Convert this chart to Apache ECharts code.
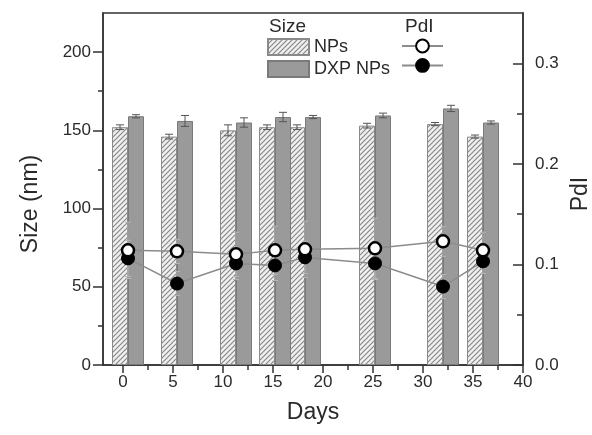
<!DOCTYPE html>
<html><head><meta charset="utf-8">
<script src="https://cdn.jsdelivr.net/npm/echarts@6/dist/echarts.min.js"></script>
<style>html,body{margin:0;padding:0;background:#fff}#c{width:592px;height:435px}</style>
</head><body><div id="c"></div>
<script>
const days = [0.5, 5.4, 11.3, 15.2, 18.2, 25.2, 32, 36];
const sizeNPs = [152, 146, 150, 152, 152, 153, 154, 146];
const sizeNPsErr = [1.5, 1.5, 3.5, 1.5, 1.5, 1.5, 1, 1];
const sizeDXP = [159, 156, 155, 158.5, 158.5, 159.5, 164, 155];
const sizeDXPErr = [1, 3.5, 3, 3, 1, 1.5, 2, 1];
const pdiNPs = [0.114, 0.113, 0.110, 0.114, 0.115, 0.116, 0.123, 0.114];
const pdiNPsErr = [0.028, 0.012, 0.022, 0.024, 0.028, 0.03, 0.015, 0.018];
const pdiDXP = [0.106, 0.081, 0.101, 0.099, 0.107, 0.101, 0.078, 0.103];
const pdiDXPErr = [0.018, 0.012, 0.016, 0.015, 0.016, 0.016, 0.012, 0.012];
const xLabels = [0, 5, 10, 15, 20, 25, 30, 35, 40];
const xMinor = [2.5, 7.5, 12.5, 17.5, 22.5, 27.5, 32.5, 37.5];
const sizeTicks = [0, 50, 100, 150, 200];
const sizeMinor = [25, 75, 125, 175];
const pdiTicks = [0, 0.1, 0.2, 0.3];
const pdiMinor = [0.05, 0.15, 0.25];

const FONT = 'Liberation Sans, Arial, sans-serif';
const AX = '#333';
const TXT = '#2a2a2a';

// hatch pattern
const pc = document.createElement('canvas');
pc.width = 5; pc.height = 5;
const g = pc.getContext('2d');
g.fillStyle = '#f0f0f0'; g.fillRect(0, 0, 5, 5);
g.strokeStyle = '#888'; g.lineWidth = 1.2;
g.beginPath(); g.moveTo(-1, 6); g.lineTo(6, -1); g.stroke();
g.beginPath(); g.moveTo(-1, 1); g.lineTo(1, -1); g.stroke();
g.beginPath(); g.moveTo(4, 6); g.lineTo(6, 4); g.stroke();
const hatch = { image: pc, repeat: 'repeat' };

const chart = echarts.init(document.getElementById('c'), null, { renderer: 'canvas' });

function barErr(vals, errs, side) {
  return {
    type: 'custom', xAxisIndex: 0, yAxisIndex: 0, z: 4, silent: true,
    data: days.map((d, i) => [d, vals[i] - errs[i], vals[i] + errs[i]]),
    renderItem(params, api) {
      const lo = api.coord([api.value(0), api.value(1)]);
      const hi = api.coord([api.value(0), api.value(2)]);
      const x = lo[0] + side * 8;
      const cw = 4;
      const st = { stroke: '#555', lineWidth: 1 };
      return { type: 'group', children: [
        { type: 'line', shape: { x1: x, y1: hi[1], x2: x, y2: lo[1] }, style: st },
        { type: 'line', shape: { x1: x - cw, y1: hi[1], x2: x + cw, y2: hi[1] }, style: st },
        { type: 'line', shape: { x1: x - cw, y1: lo[1], x2: x + cw, y2: lo[1] }, style: st }
      ] };
    }
  };
}
function pdiErr(vals, errs) {
  return {
    type: 'custom', xAxisIndex: 0, yAxisIndex: 2, z: 5, silent: true,
    data: days.map((d, i) => [d, vals[i] - errs[i], vals[i] + errs[i]]),
    renderItem(params, api) {
      const lo = api.coord([api.value(0), api.value(1)]);
      const hi = api.coord([api.value(0), api.value(2)]);
      const x = lo[0];
      const cw = 3;
      const st = { stroke: '#b5b5b5', lineWidth: 1 };
      return { type: 'group', children: [
        { type: 'line', shape: { x1: x, y1: hi[1], x2: x, y2: lo[1] }, style: st },
        { type: 'line', shape: { x1: x - cw, y1: hi[1], x2: x + cw, y2: hi[1] }, style: st },
        { type: 'line', shape: { x1: x - cw, y1: lo[1], x2: x + cw, y2: lo[1] }, style: st }
      ] };
    }
  };
}

const lbl = { fontFamily: FONT, fontSize: 17, color: TXT };
const nameStyle = { fontFamily: FONT, fontSize: 23, color: TXT };

chart.setOption({
  animation: false,
  grid: { left: 103, right: 69, top: 13, bottom: 70, containLabel: false, outerBoundsMode: 'none',
    show: true, borderColor: AX, borderWidth: 1.5, backgroundColor: 'transparent' },
  legend: [
    {
      data: ['NPs', 'DXP NPs'], orient: 'vertical', left: 262, top: 33, icon: 'rect',
      itemWidth: 41, itemHeight: 16, itemGap: 4, textStyle: { fontFamily: FONT, fontSize: 18, color: TXT },
      selectedMode: false
    },
    {
      data: ['NPs PdI', 'DXP NPs PdI'], orient: 'vertical', left: 396, top: 33,
      itemWidth: 41, itemHeight: 16, itemGap: 4, formatter: () => '', selectedMode: false,
      textStyle: { fontFamily: FONT, fontSize: 18 }
    }
  ],
  graphic: [
    { type: 'text', left: 269, top: 17, style: { text: 'Size', font: '19px ' + FONT, fill: TXT } },
    { type: 'text', left: 405, top: 17, style: { text: 'PdI', font: '19px ' + FONT, fill: TXT } }
  ],
  xAxis: [
    {
      type: 'value', min: -2, max: 40, position: 'bottom',
      name: 'Days', nameLocation: 'middle', nameGap: 36, nameTextStyle: nameStyle,
      axisLine: { show: true, onZero: false, lineStyle: { color: AX, width: 1.5 } },
      axisTick: { show: true, customValues: xLabels, length: 8, lineStyle: { color: AX, width: 1.5 } },
      axisLabel: Object.assign({ customValues: xLabels, margin: 9 }, lbl),
      splitLine: { show: false }
    },
    {
      type: 'value', min: -2, max: 40, position: 'bottom',
      axisLine: { show: false, onZero: false },
      axisTick: { show: true, customValues: xMinor, length: 5, lineStyle: { color: AX, width: 1.5 } },
      axisLabel: { show: false }, splitLine: { show: false }
    }
  ],
  yAxis: [
    {
      type: 'value', min: 0, max: 225, position: 'left',
      name: 'Size (nm)', nameLocation: 'middle', nameGap: 61, nameRotate: 90,
      nameTextStyle: Object.assign({ padding: [0, 30, 0, 0] }, nameStyle),
      axisLine: { show: true, onZero: false, lineStyle: { color: AX, width: 1.5 } },
      axisTick: { show: true, customValues: sizeTicks, length: 10, lineStyle: { color: AX, width: 1.5 } },
      axisLabel: Object.assign({ customValues: sizeTicks, margin: 12 }, lbl),
      splitLine: { show: false }
    },
    {
      type: 'value', min: 0, max: 225, position: 'left',
      axisLine: { show: false, onZero: false },
      axisTick: { show: true, customValues: sizeMinor, length: 5, lineStyle: { color: AX, width: 1.5 } },
      axisLabel: { show: false }, splitLine: { show: false }
    },
    {
      type: 'value', min: 0, max: 0.35, position: 'right',
      name: 'PdI', nameLocation: 'middle', nameGap: 45, nameRotate: 90,
      nameTextStyle: Object.assign({ padding: [0, 10, 0, 0] }, nameStyle),
      axisLine: { show: true, onZero: false, lineStyle: { color: AX, width: 1.5 } },
      axisTick: { show: true, inside: true, customValues: pdiTicks, length: 10, lineStyle: { color: AX, width: 1.5 } },
      axisLabel: Object.assign({ customValues: pdiTicks, margin: 12, formatter: v => v.toFixed(1) }, lbl),
      splitLine: { show: false }
    },
    {
      type: 'value', min: 0, max: 0.35, position: 'right',
      axisLine: { show: false, onZero: false },
      axisTick: { show: true, inside: true, customValues: pdiMinor, length: 6, lineStyle: { color: AX, width: 1.5 } },
      axisLabel: { show: false }, splitLine: { show: false }
    }
  ],
  series: [
    {
      name: 'NPs', type: 'bar', xAxisIndex: 0, yAxisIndex: 0, barWidth: 16, barGap: '0%', z: 2,
      data: days.map((d, i) => [d, sizeNPs[i]]),
      itemStyle: { color: hatch, borderColor: '#8a8a8a', borderWidth: 1 }
    },
    {
      name: 'DXP NPs', type: 'bar', xAxisIndex: 0, yAxisIndex: 0, barWidth: 16, barGap: '0%', z: 2,
      data: days.map((d, i) => [d, sizeDXP[i]]),
      itemStyle: { color: '#9a9a9a', borderColor: '#7a7a7a', borderWidth: 1 }
    },
    barErr(sizeNPs, sizeNPsErr, -1),
    barErr(sizeDXP, sizeDXPErr, 1),
    pdiErr(pdiNPs, pdiNPsErr),
    pdiErr(pdiDXP, pdiDXPErr),
    {
      name: 'DXP NPs PdI', type: 'line', xAxisIndex: 0, yAxisIndex: 2, z: 6,
      data: days.map((d, i) => [d, pdiDXP[i]]),
      symbol: 'circle', symbolSize: 13,
      lineStyle: { color: '#8c8c8c', width: 1.5 },
      itemStyle: { color: '#000', borderColor: '#000', borderWidth: 1 }
    },
    {
      name: 'NPs PdI', type: 'line', xAxisIndex: 0, yAxisIndex: 2, z: 7,
      data: days.map((d, i) => [d, pdiNPs[i]]),
      symbol: 'circle', symbolSize: 12,
      lineStyle: { color: '#8c8c8c', width: 1.5 },
      itemStyle: { color: '#fff', borderColor: '#000', borderWidth: 2.5 }
    }
  ]
});
</script></body></html>
